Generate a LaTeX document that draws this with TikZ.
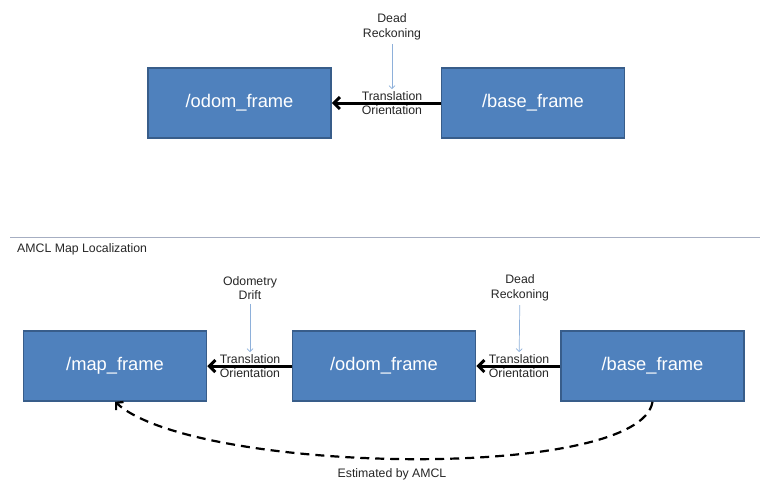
\documentclass[tikz,border=0pt]{standalone}
\usepackage{fontspec}
\setmainfont{Liberation Sans}
\usepackage{tikz}
\usetikzlibrary{arrows.meta}

\definecolor{boxblue}{HTML}{4F81BD}
\definecolor{boxline}{HTML}{385D8A}
\definecolor{hintblue}{HTML}{8EB0DA}
\definecolor{rulegray}{HTML}{A6AEC2}

\begin{document}
\begin{tikzpicture}[x=1pt,y=-1pt,
  frame/.style={rectangle,draw=boxline,line width=1.5pt,fill=boxblue,text=white,
    minimum width=183pt,minimum height=70pt,font=\fontsize{18.3}{20}\selectfont},
  note/.style={align=center,inner sep=1pt,text=black!85,font=\fontsize{12.3}{14.5}\selectfont},
  tf/.style={line width=3pt,-{Straight Barb[length=6pt,width=12pt]}},
  hint/.style={draw=hintblue,line width=0.7pt,-{Straight Barb[length=3pt,width=6pt]},shorten <=3pt,shorten >=1pt}]

\useasboundingbox (0,0) rectangle (765,498);

% odometry only
\node[frame] (odom1) at (239.5,103) {/odom\_frame};
\node[frame] (base1) at (533,103) {/base\_frame};
\node[note] (tf1) at (392,103) {Translation\\Orientation};
\node[note] (dr1) at (392,27) {Dead\\Reckoning};

\draw[tf]  (base1) -- (odom1);
\draw[hint] (dr1) -- (tf1);

% amcl
\draw[rulegray,line width=0.8pt] (10,237) -- (760,237);
\node[note,anchor=west] (amcl) at (16,249) {AMCL Map Localization};

\node[frame] (map2) at (115,366) {/map\_frame};
\node[frame] (odom2) at (384,366) {/odom\_frame};
\node[frame] (base2) at (652.5,366) {/base\_frame};
\node[note] (tf2) at (250,366) {Translation\\Orientation};
\node[note] (tf3) at (519,366) {Translation\\Orientation};
\node[note] (drift) at (250,288) {Odometry\\Drift};
\node[note] (dr2) at (520,288) {Dead\\Reckoning};

\draw[tf]  (odom2) -- (map2);
\draw[tf]  (base2) -- (odom2);
\draw[hint] (drift) -- (tf2);
\draw[hint] (dr2) -- (tf3);
%\draw (base2.south) .. controls (650,470) and (180,480) .. (map2.south);
\draw[line width=2.2pt,dash pattern=on 9pt off 6pt,-{Straight Barb[length=5pt,width=11pt]}]
  (base2.south) .. controls (640,482) and (195,474) .. (map2.south);
\node[note] (est) at (392,474) {Estimated by AMCL};
\end{tikzpicture}
\end{document}
